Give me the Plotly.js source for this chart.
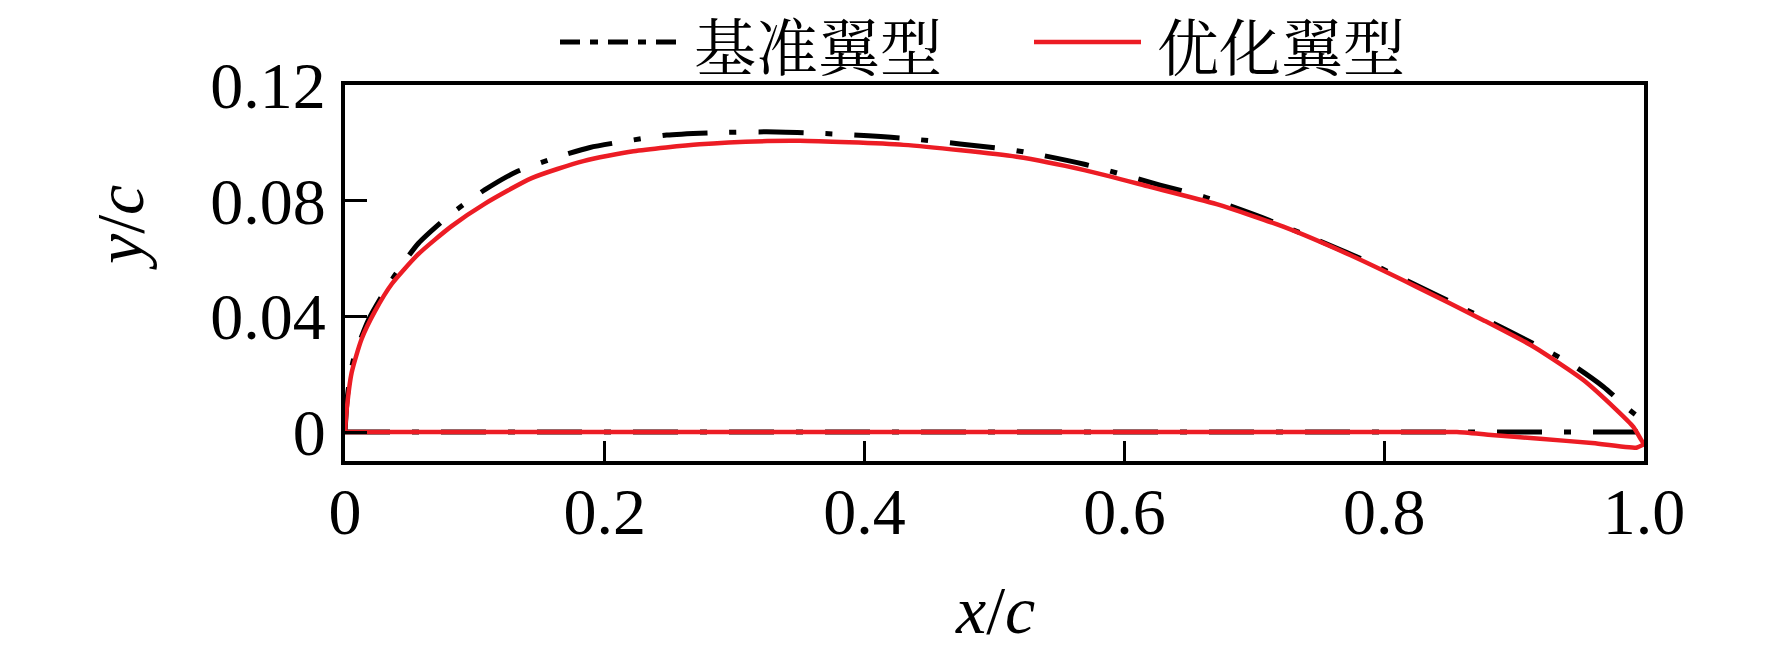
<!DOCTYPE html>
<html>
<head>
<meta charset="utf-8">
<script src="https://cdn.plot.ly/plotly-3.0.1.min.js"></script>
<style>html,body{margin:0;padding:0;background:#fff;}#chart{width:1772px;height:650px;}</style>
</head>
<body>
<div id="chart"></div>
<script>
// ---- data ----
const seriesNames = ['基准翼型', '优化翼型'];

const baseUpperX = [0, 0.002, 0.0064, 0.018, 0.036, 0.0564, 0.0821, 0.1078, 0.132, 0.160, 0.1886, 0.222, 0.2476, 0.2835, 0.3246, 0.37, 0.43, 0.517, 0.57, 0.6274, 0.6608, 0.7145, 0.7788, 0.843, 0.8943, 0.943, 0.9687, 0.989, 0.999];
const baseUpperY = [0, 0.013, 0.0249, 0.0387, 0.0526, 0.0652, 0.0756, 0.0838, 0.0900, 0.0946, 0.0984, 0.1010, 0.1027, 0.1035, 0.1038, 0.1032, 0.1016, 0.0973, 0.0925, 0.0854, 0.0814, 0.0727, 0.0606, 0.0468, 0.0353, 0.0238, 0.0157, 0.0076, 0.0041];
const baseLowerX = [0, 0.25, 0.5, 0.75, 1.0];
const baseLowerY = [0, 0, 0, 0, 0];

const optUpperX = [0, 0.0013, 0.0051, 0.0128, 0.0231, 0.036, 0.0564, 0.0821, 0.1078, 0.1437, 0.1835, 0.222, 0.273, 0.325, 0.35, 0.43, 0.517, 0.57, 0.6197, 0.671, 0.7223, 0.7737, 0.825, 0.8763, 0.915, 0.9533, 0.979, 0.9918, 0.998, 1.0];
const optUpperY = [0, 0.0078, 0.0205, 0.0322, 0.0418, 0.0512, 0.0615, 0.0712, 0.0790, 0.0878, 0.0937, 0.0971, 0.0995, 0.1006, 0.1007, 0.0993, 0.0952, 0.0905, 0.0848, 0.0788, 0.0710, 0.0612, 0.0502, 0.0387, 0.0295, 0.0180, 0.0076, 0.0018, -0.0028, -0.0042];
const optLowerX = [0, 0.25, 0.5, 0.75, 0.856, 0.88, 0.92, 0.96, 0.994, 1.0];
const optLowerY = [0, 0, 0, 0, 0, -0.0009, -0.0023, -0.0038, -0.0054, -0.0042];

const xTickVals = [0, 0.2, 0.4, 0.6, 0.8, 1.0];
const xTickText = ['0', '0.2', '0.4', '0.6', '0.8', '1.0'];
const yTickVals = [0, 0.04, 0.08, 0.12];
const yTickText = ['0', '0.04', '0.08', '0.12'];

const BLACK_DASH = '45px,22px,7px,22px';
const RED = '#ec1c24';
const serif = '"Liberation Serif", "Times New Roman", serif';
const cjk = '"Noto Serif CJK SC", "Noto Sans CJK SC", sans-serif';

const blackLine = {color: '#000', width: 5, dash: BLACK_DASH};
const redLine = {color: RED, width: 4.5};

const traces = [
  {x: baseUpperX, y: baseUpperY, mode: 'lines', name: seriesNames[0], showlegend: false,
   line: Object.assign({shape: 'spline', smoothing: 0.6}, blackLine)},
  {x: baseLowerX, y: baseLowerY, mode: 'lines', name: seriesNames[0], showlegend: false,
   line: blackLine},
  {x: optUpperX, y: optUpperY, mode: 'lines', name: seriesNames[1], showlegend: false,
   line: Object.assign({shape: 'spline', smoothing: 0.6}, redLine)},
  {x: optLowerX, y: optLowerY, mode: 'lines', name: seriesNames[1], showlegend: false,
   line: Object.assign({shape: 'spline', smoothing: 0.3}, redLine)}
];

const L = 345, R = 1644, T = 85, B = 461;
const px = v => (v - L) / (R - L);
const py = v => (B - v) / (B - T);

const layout = {
  width: 1772, height: 650,
  margin: {l: L, r: 1772 - R, t: T, b: 650 - B, pad: 0},
  paper_bgcolor: '#fff', plot_bgcolor: '#fff',
  showlegend: false,
  font: {family: serif, color: '#000', size: 66},
  xaxis: {
    range: [0, 1], tickvals: xTickVals, ticktext: xTickText,
    ticks: 'inside', ticklen: 20, tickwidth: 3, tickcolor: '#000',
    showline: true, linewidth: 4, linecolor: '#000', mirror: true,
    showgrid: false, zeroline: false,
    tickfont: {family: serif, size: 66, color: '#000'},
    ticklabelstandoff: -10
  },
  yaxis: {
    range: [-0.01, 0.12], tickvals: yTickVals, ticktext: yTickText,
    ticks: 'inside', ticklen: 22, tickwidth: 3, tickcolor: '#000',
    showline: true, linewidth: 4, linecolor: '#000', mirror: true,
    showgrid: false, zeroline: false,
    tickfont: {family: serif, size: 66, color: '#000'},
    ticklabelstandoff: 2
  },
  shapes: [
    {type: 'line', xref: 'paper', yref: 'paper', x0: px(560), x1: px(678), y0: py(42), y1: py(42),
     line: {color: '#000', width: 5, dash: '20px,10px,8px,10px'}},
    {type: 'line', xref: 'paper', yref: 'paper', x0: px(1034), x1: px(1141), y0: py(42), y1: py(42),
     line: {color: RED, width: 4.5}}
  ],
  annotations: [
    {text: seriesNames[0], xref: 'paper', yref: 'paper', x: px(692), y: py(44), xanchor: 'left', yanchor: 'middle',
     showarrow: false, font: {family: cjk, size: 62, color: '#000'}},
    {text: seriesNames[1], xref: 'paper', yref: 'paper', x: px(1155), y: py(44), xanchor: 'left', yanchor: 'middle',
     showarrow: false, font: {family: cjk, size: 62, color: '#000'}},
    {text: '<i>x</i>/<i>c</i>', xref: 'paper', yref: 'paper', x: 0.5, y: py(610), xanchor: 'center', yanchor: 'middle',
     showarrow: false, font: {family: serif, size: 68, color: '#000'}},
    {text: '<i>y</i>/<i>c</i>', xref: 'paper', yref: 'paper', x: px(120), y: py(228), xanchor: 'center', yanchor: 'middle',
     textangle: -90, showarrow: false, font: {family: serif, size: 68, color: '#000'}}
  ]
};

Plotly.newPlot('chart', traces, layout, {displayModeBar: false, staticPlot: true});
</script>
</body>
</html>
